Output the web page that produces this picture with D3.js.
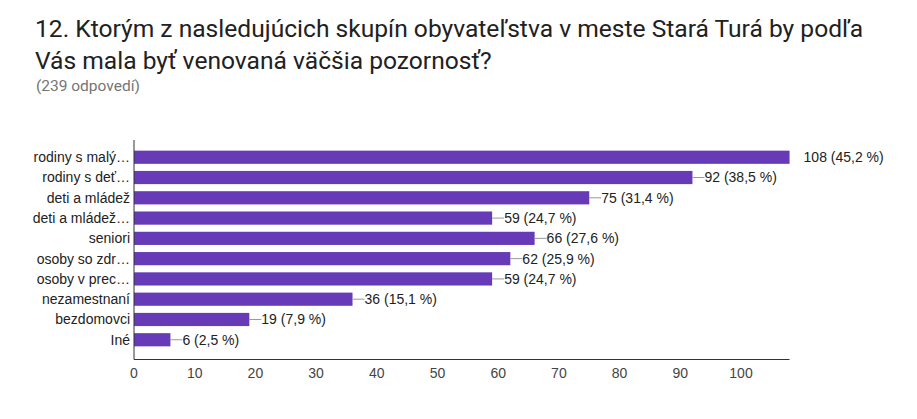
<!DOCTYPE html>
<html>
<head>
<meta charset="utf-8">
<script src="https://cdn.jsdelivr.net/npm/d3@7"></script>
<style>
  body { margin: 0; background: #fff; }
  svg { display: block; }
</style>
</head>
<body>
<svg id="chart" width="917" height="419"></svg>
<script>
// survey answers
var categories = ['rodiny s malý…', 'rodiny s deť…', 'deti a mládež', 'deti a mládež…', 'seniori',
  'osoby so zdr…', 'osoby v prec…', 'nezamestnaní', 'bezdomovci', 'Iné']
var counts = [108, 92, 75, 59, 66, 62, 59, 36, 19, 6]
var percents = ['45,2', '38,5', '31,4', '24,7', '27,6', '25,9', '24,7', '15,1', '7,9', '2,5']
var xTicks = [0, 10, 20, 30, 40, 50, 60, 70, 80, 90, 100]

var svg = d3.select('#chart')
var labelFont = '"Liberation Sans", Arial, sans-serif'

svg.append('text')
  .attr('x', 35).attr('y', 37)
  .attr('font-family', 'Roboto, sans-serif').attr('font-size', 24.6).attr('fill', '#212121')
  .text('12. Ktorým z nasledujúcich skupín obyvateľstva v meste Stará Turá by podľa')
svg.append('text')
  .attr('x', 35).attr('y', 69)
  .attr('font-family', 'Roboto, sans-serif').attr('font-size', 24.6).attr('fill', '#212121')
  .text('Vás mala byť venovaná väčšia pozornosť?')
svg.append('text')
  .attr('x', 36).attr('y', 91)
  .attr('font-family', 'Roboto, sans-serif').attr('font-size', 15.5).attr('fill', '#757575')
  .text('(239 odpovedí)')

var x = d3.scaleLinear().domain([0, 100]).range([134, 741])
var y = d3.scaleBand().domain(categories).range([147, 350]).paddingInner(0.35).paddingOuter(0.18)

var g = svg.append('g')

g.selectAll('.bar')
  .data(counts)
  .enter()
  .append('rect')
  .attr('class', 'bar')
  .attr('x', x(0))
  .attr('y', function (d, i) { return y(categories[i]) })
  .attr('width', function (d) { return x(d) - x(0) })
  .attr('height', y.bandwidth())
  .attr('fill', '#673ab7')

// leader lines and value labels
var lbl = g.selectAll('.val')
  .data(counts)
  .enter()
  .append('g')
  .attr('class', 'val')
  .attr('transform', function (d, i) {
    return 'translate(' + x(d) + ',' + (y(categories[i]) + y.bandwidth() / 2) + ')'
  })

lbl.filter(function (d, i) { return i > 0 })
  .append('line')
  .attr('x1', 0).attr('x2', 12).attr('y1', 0).attr('y2', 0)
  .attr('stroke', '#999').attr('stroke-width', 1)

lbl.append('text')
  .attr('x', function (d, i) { return i === 0 ? 14 : 12 })
  .attr('dy', '0.35em')
  .attr('font-family', labelFont).attr('font-size', 14).attr('fill', '#222')
  .text(function (d, i) { return d + ' (' + percents[i] + ' %)' })

// category labels
g.selectAll('.cat')
  .data(categories)
  .enter()
  .append('text')
  .attr('class', 'cat')
  .attr('x', 130)
  .attr('y', function (d) { return y(d) + y.bandwidth() / 2 })
  .attr('dy', '0.35em')
  .attr('text-anchor', 'end')
  .attr('font-family', labelFont).attr('font-size', 14).attr('fill', '#222')
  .text(function (d) { return d })

// axes
g.append('line')
  .attr('x1', x(0)).attr('x2', x(0)).attr('y1', 140).attr('y2', 359.5)
  .attr('stroke', '#333').attr('stroke-width', 1)
g.append('line')
  .attr('x1', x(0)).attr('x2', x(108)).attr('y1', 359.5).attr('y2', 359.5)
  .attr('stroke', '#333').attr('stroke-width', 1)

g.selectAll('.tick')
  .data(xTicks)
  .enter()
  .append('text')
  .attr('class', 'tick')
  .attr('x', function (d) { return x(d) })
  .attr('y', 378)
  .attr('text-anchor', 'middle')
  .attr('font-family', labelFont).attr('font-size', 14).attr('fill', '#444')
  .text(function (d) { return d })
</script>
</body>
</html>
